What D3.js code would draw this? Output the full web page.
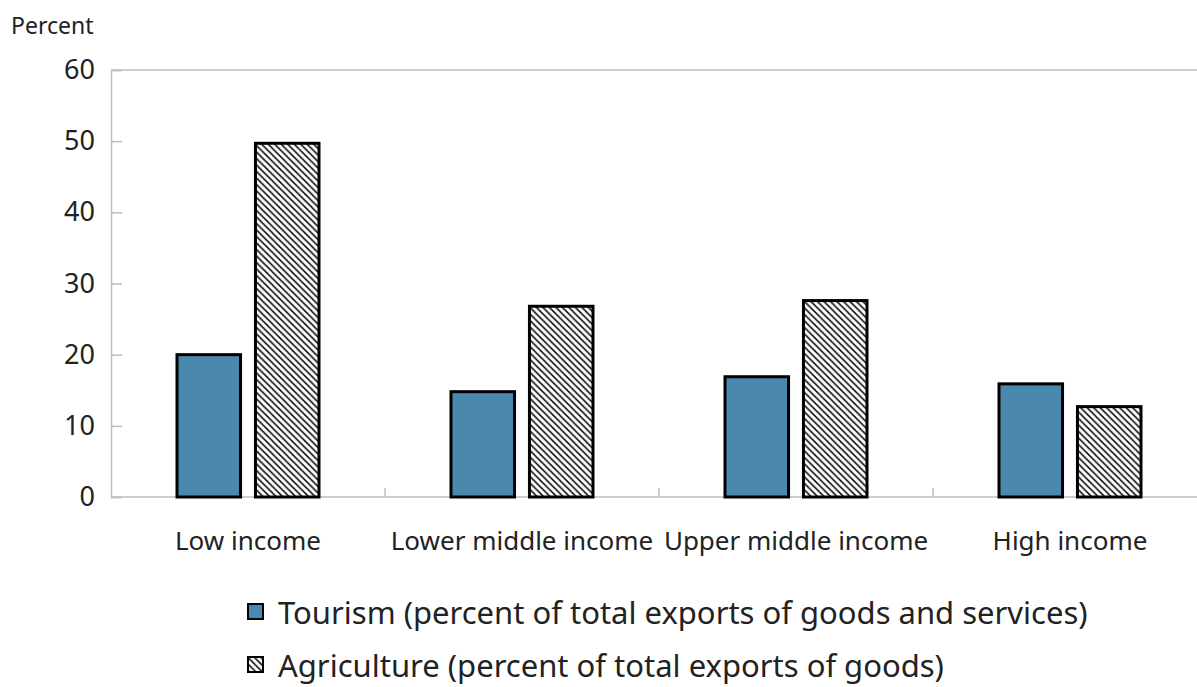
<!DOCTYPE html>
<html>
<head>
<meta charset="utf-8">
<script src="https://cdn.jsdelivr.net/npm/d3@7"></script>
<style>
  html, body { margin: 0; padding: 0; background: #fff; }
  svg { display: block; }
  text { font-family: "Noto Sans", "Open Sans", sans-serif; fill: #222; }
</style>
</head>
<body>
<svg id="chart" width="1197" height="687"></svg>
<script>
// Income groups and the two export shares (percent)
const categories = ["Low income", "Lower middle income", "Upper middle income", "High income"];
const seriesNames = [
  "Tourism (percent of total exports of goods and services)",
  "Agriculture (percent of total exports of goods)"
];
const tourism = [20.0, 14.8, 16.9, 15.9];
const agriculture = [49.7, 26.8, 27.6, 12.7];
const yTicks = [0, 10, 20, 30, 40, 50, 60];

const svg = d3.select("#chart");
const margin = { left: 111, top: 70 };
const plotRight = 1207, plotBottom = 497;

// Diagonal hatch (top-left to bottom-right) used for the agriculture bars
const defs = svg.append("defs");
const hatch = defs.append("pattern")
  .attr("id", "hatch")
  .attr("patternUnits", "userSpaceOnUse")
  .attr("width", 6.5).attr("height", 6.5);
hatch.append("rect").attr("width", 6.5).attr("height", 6.5).attr("fill", "#fff");
hatch.append("path")
  .attr("d", "M-1,-1 L7.5,7.5 M-1,5.5 L1,7.5 M5.5,-1 L7.5,1")
  .attr("stroke", "#111").attr("stroke-width", 1.6);

const x0 = d3.scaleBand().domain(categories).range([margin.left, plotRight]).padding(0);
const x1 = d3.scaleBand().domain([0, 1]).range([66, x0.bandwidth() - 66]).paddingInner(0.19);
const y = d3.scaleLinear().domain([0, 60]).range([plotBottom, margin.top]);

const axisColor = "#bfbfbf";

// Frame: top border
svg.append("line")
  .attr("x1", margin.left).attr("x2", plotRight)
  .attr("y1", y(60)).attr("y2", y(60))
  .attr("stroke", axisColor).attr("stroke-width", 1.5);

// Y axis with inward ticks
const yAxis = svg.append("g")
  .attr("transform", `translate(${margin.left},0)`)
  .call(d3.axisLeft(y).tickValues(yTicks).tickSize(-11).tickPadding(16));
yAxis.select(".domain").attr("stroke", axisColor).attr("stroke-width", 1.5);
yAxis.selectAll(".tick line").attr("stroke", axisColor).attr("stroke-width", 1.5);
yAxis.selectAll(".tick text")
  .attr("font-size", 27).attr("font-family", "Noto Sans, sans-serif").attr("fill", "#333");

// X axis: boundary ticks between categories
const xAxisG = svg.append("g");
xAxisG.append("line")
  .attr("x1", margin.left).attr("x2", plotRight)
  .attr("y1", plotBottom).attr("y2", plotBottom)
  .attr("stroke", axisColor).attr("stroke-width", 1.5);
xAxisG.selectAll("line.sep")
  .data(categories.slice(1))
  .join("line")
  .attr("class", "sep")
  .attr("x1", d => x0(d)).attr("x2", d => x0(d))
  .attr("y1", plotBottom).attr("y2", plotBottom - 9)
  .attr("stroke", axisColor).attr("stroke-width", 1.5);
xAxisG.selectAll("text")
  .data(categories)
  .join("text")
  .attr("x", d => x0(d) + x0.bandwidth() / 2)
  .attr("y", 550)
  .attr("text-anchor", "middle")
  .attr("font-size", 26)
  .attr("fill", "#333")
  .text(d => d);

// Bars
const rows = categories.map((c, i) => ({ c, vals: [tourism[i], agriculture[i]] }));
const groups = svg.append("g").selectAll("g")
  .data(rows)
  .join("g")
  .attr("transform", d => `translate(${x0(d.c)},0)`);
groups.selectAll("rect")
  .data(d => d.vals.map((v, k) => ({ v, k })))
  .join("rect")
  .attr("x", d => x1(d.k))
  .attr("width", x1.bandwidth())
  .attr("y", d => y(d.v))
  .attr("height", d => y(0) - y(d.v))
  .attr("fill", d => d.k === 0 ? "#4a89ad" : "url(#hatch)")
  .attr("stroke", "#000")
  .attr("stroke-width", 3);

// Axis title
svg.append("text")
  .attr("x", 11).attr("y", 34)
  .attr("font-size", 23)
  .attr("fill", "#111")
  .text("Percent");

// Legend
const legend = svg.append("g");
const legendRows = seriesNames.map((name, k) => ({ name, k }));
legend.selectAll("rect")
  .data(legendRows)
  .join("rect")
  .attr("x", 248)
  .attr("y", d => 604 + d.k * 53)
  .attr("width", 15).attr("height", 15)
  .attr("fill", d => d.k === 0 ? "#4a89ad" : "url(#hatch)")
  .attr("stroke", "#000").attr("stroke-width", 2);
legend.selectAll("text")
  .data(legendRows)
  .join("text")
  .attr("x", 278)
  .attr("y", d => 624 + d.k * 53)
  .attr("font-size", 31)
  .attr("fill", "#222")
  .text(d => d.name);
</script>
</body>
</html>
